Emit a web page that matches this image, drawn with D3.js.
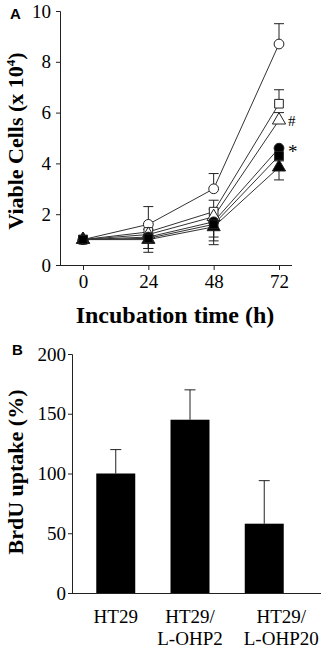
<!DOCTYPE html>
<html>
<head>
<meta charset="utf-8">
<script src="https://cdn.jsdelivr.net/npm/d3@7"></script>
<style>
  body { margin: 0; background: #fff; }
  text { font-family: "Liberation Serif", "Times New Roman", serif; }
</style>
</head>
<body>
<div id="main"></div>
<script>
// ---- panel A data
var hours = [0, 24, 48, 72];
var yTicksA = [0, 2, 4, 6, 8, 10];
var openCircle   = [1.0, 1.6, 3.0, 8.7];
var openSquare   = [1.0, 1.3, 2.1, 6.35];
var openTriangle = [1.0, 1.2, 1.9, 5.7];
var fillCircle   = [1.0, 1.1, 1.7, 4.6];
var fillSquare   = [1.0, 1.05, 1.6, 4.3];
var fillTriangle = [1.0, 1.0, 1.5, 3.85];
var errCircle    = [0, 0.7, 0.6, 0.8];
var errSquare    = [0, 0.3, 0.45, 0.55];
var errTriangle  = [0, 0.2, 0.3, 0.3];
var errFCircle   = [0, 0.45, 0.6, 0.5];
var errFSquare   = [0, 0.4, 0.65, 0.5];
var errFTriangle = [0, 0.5, 0.7, 0.5];

// ---- panel B data
var cells = [["HT29"], ["HT29/", "L-OHP2"], ["HT29/", "L-OHP20"]];
var brdu = [100, 145, 58];
var brduErr = [20, 25, 36];
var yTicksB = [0, 50, 100, 150, 200];

var series = [
  {v: openCircle,   e: errCircle,    shape: d3.symbolCircle,   fill: "#fff", up: true},
  {v: openSquare,   e: errSquare,    shape: d3.symbolSquare,   fill: "#fff", up: true},
  {v: openTriangle, e: errTriangle,  shape: d3.symbolTriangle, fill: "#fff", up: true},
  {v: fillTriangle, e: errFTriangle, shape: d3.symbolTriangle, fill: "#000", up: false},
  {v: fillCircle,   e: errFCircle,   shape: d3.symbolCircle,   fill: "#000", up: false},
  {v: fillSquare,   e: errFSquare,   shape: d3.symbolSquare,   fill: "#000", up: false}
];
var symbolSize = {};
symbolSize[d3.symbolCircle] = 120;
symbolSize[d3.symbolSquare] = 170;
symbolSize[d3.symbolTriangle] = 75;

var svg = d3.select("#main").append("svg")
    .attr("width", 325)
    .attr("height", 650);

//////////////////////////////////////////////////////////////////////////
// A: growth curves
var x = d3.scalePoint().domain(hours).range([83, 279]);
var y = d3.scaleLinear().domain([0, 10]).range([265, 11]);

var gA = svg.append("g");

gA.append("g")
    .attr("transform", "translate(60,0)")
    .call(d3.axisLeft(y).tickValues(yTicksA).tickSize(4).tickPadding(5))
    .call(styleAxis);

gA.append("g")
    .attr("transform", "translate(0,265)")
    .call(d3.axisBottom(x).tickSize(5).tickPadding(5))
    .call(styleAxis)
    .select(".domain").attr("d", "M60,0.5H292");

var line = d3.line()
    .x(function(d, i) { return x(hours[i]); })
    .y(function(d) { return y(d); });

series.forEach(function(s) {
  gA.append("path")
      .attr("d", line(s.v))
      .attr("fill", "none")
      .attr("stroke", "#333")
      .attr("stroke-width", 1);
});

series.forEach(function(s) {
  s.v.forEach(function(v, i) {
    if (!s.e[i]) return;
    var cx = x(hours[i]);
    var yEnd = y(s.up ? v + s.e[i] : v - s.e[i]);
    gA.append("line").attr("x1", cx).attr("x2", cx)
        .attr("y1", y(v)).attr("y2", yEnd)
        .attr("stroke", "#222");
    gA.append("line").attr("x1", cx - 5).attr("x2", cx + 5)
        .attr("y1", yEnd).attr("y2", yEnd)
        .attr("stroke", "#222");
  });
});

series.forEach(function(s) {
  gA.selectAll(null)
      .data(s.v)
      .enter()
      .append("path")
      .attr("transform", function(d, i) { return "translate(" + x(hours[i]) + "," + y(d) + ")"; })
      .attr("d", d3.symbol().type(s.shape).size(symbolSize[s.shape]))
      .attr("fill", s.fill)
      .attr("stroke", "#222")
      .attr("stroke-width", 1);
});

gA.append("text").attr("x", 288).attr("y", y(5.6)).text("#")
    .attr("font-size", 15).attr("dominant-baseline", "middle");
gA.append("text").attr("x", 288).attr("y", y(4.4)).text("*")
    .attr("font-size", 19).attr("dominant-baseline", "middle");

gA.append("text")
    .attr("x", 175).attr("y", 323)
    .attr("text-anchor", "middle")
    .attr("font-size", 24).attr("font-weight", "bold")
    .text("Incubation time (h)");

var ta = gA.append("text")
    .attr("transform", "translate(23,141) rotate(-90)")
    .attr("text-anchor", "middle")
    .attr("font-size", 22).attr("font-weight", "bold");
ta.append("tspan").text("Viable Cells (x 10");
ta.append("tspan").attr("font-size", 13).attr("dy", -8).text("4");
ta.append("tspan").attr("dy", 8).text(")");

svg.append("text").attr("x", 10).attr("y", 19).text("A")
    .style("font-family", "Arial, 'Liberation Sans', sans-serif")
    .attr("font-size", 15).attr("font-weight", "bold");

//////////////////////////////////////////////////////////////////////////
// B: BrdU uptake bars
var xb = d3.scaleBand().domain(d3.range(cells.length)).range([61, 319]).padding(0.475);
var yb = d3.scaleLinear().domain([0, 200]).range([593, 354]);

var gB = svg.append("g");

gB.append("g")
    .attr("transform", "translate(72,0)")
    .call(d3.axisLeft(yb).tickValues(yTicksB).tickSize(4).tickPadding(2))
    .call(styleAxis);

gB.append("line").attr("x1", 72).attr("x2", 321)
    .attr("y1", 593.5).attr("y2", 593.5).attr("stroke", "#222");

gB.selectAll(".err")
    .data(brdu)
    .enter()
    .append("path")
    .attr("d", function(d, i) {
      var cx = xb(i) + xb.bandwidth() / 2, top = yb(d + brduErr[i]);
      return "M" + cx + "," + yb(d) + "V" + top + "M" + (cx - 5.5) + "," + top + "H" + (cx + 5.5);
    })
    .attr("stroke", "#222").attr("fill", "none");

gB.selectAll(".bar")
    .data(brdu)
    .enter()
    .append("rect")
    .attr("x", function(d, i) { return xb(i); })
    .attr("y", function(d) { return yb(d); })
    .attr("width", xb.bandwidth())
    .attr("height", function(d) { return yb(0) - yb(d); })
    .attr("fill", "#000");

var labelShift = [0, 0, 17];
cells.forEach(function(c, i) {
  var t = gB.append("text")
      .attr("text-anchor", "middle")
      .attr("font-size", 19)
      .attr("y", 623);
  c.forEach(function(s, j) {
    t.append("tspan")
        .attr("x", xb(i) + xb.bandwidth() / 2 + labelShift[i])
        .attr("dy", j ? 22 : 0)
        .text(s);
  });
});

gB.append("text")
    .attr("transform", "translate(23,472) rotate(-90)")
    .attr("text-anchor", "middle")
    .attr("font-size", 22).attr("font-weight", "bold")
    .text("BrdU uptake (%)");

svg.append("text").attr("x", 12).attr("y", 355).text("B")
    .style("font-family", "Arial, 'Liberation Sans', sans-serif")
    .attr("font-size", 15).attr("font-weight", "bold");

function styleAxis(g) {
  g.selectAll(".domain").attr("stroke", "#222");
  g.selectAll(".tick line").attr("stroke", "#222");
  g.selectAll(".tick text")
      .attr("fill", "#000")
      .style("font-family", "'Liberation Serif', 'Times New Roman', serif")
      .attr("font-size", 19);
}
</script>
</body>
</html>
